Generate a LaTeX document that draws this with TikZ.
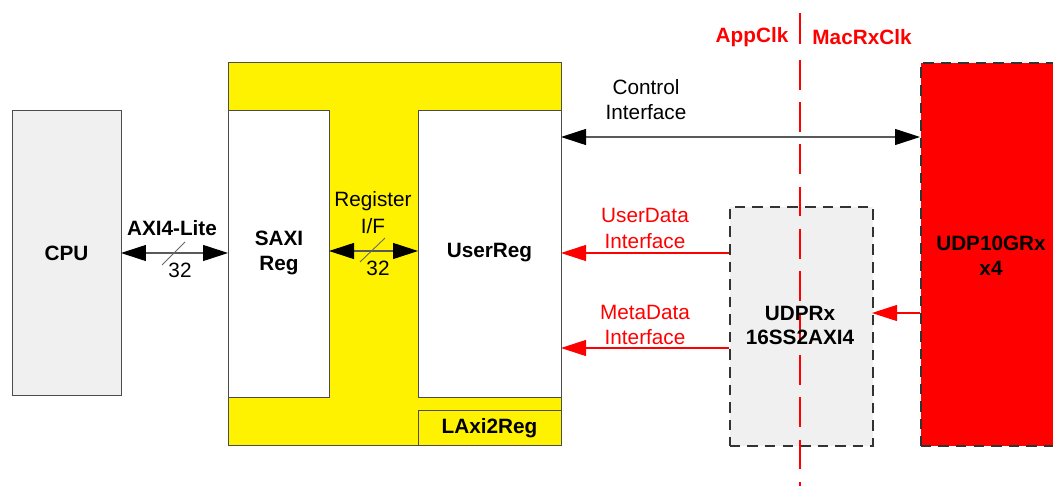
\documentclass[tikz,border=0pt]{standalone}
\usepackage{fontspec}
\setmainfont{Liberation Sans}
\usetikzlibrary{arrows.meta}
\definecolor{boxgray}{RGB}{240,240,240}
\definecolor{lnred}{RGB}{255,0,0}
\begin{document}
\begin{tikzpicture}[x=0.02cm,y=-0.02cm,
  blk/.style={draw=black!70,line width=0.6pt},
  lbl/.style={font=\fontsize{11.8}{14.2}\selectfont,align=center,inner sep=0pt},
  blbl/.style={lbl,font=\fontsize{11.8}{14.2}\selectfont\bfseries},
  big/.style={line width=0.6pt,{Triangle[length=0.5cm,width=0.32cm,color=black]}-{Triangle[length=0.5cm,width=0.32cm,color=black]}},
  onehead/.style={line width=0.6pt,-{Triangle[length=0.5cm,width=0.32cm]}}]
\useasboundingbox (0,0) rectangle (1053,486);
% blocks
\node[blk,fill=boxgray,minimum width=109*0.02cm,minimum height=285*0.02cm,anchor=north west,inner sep=0] (cpu) at (12,110) {};
\node[blbl] at (66.5,253) {CPU};
\node[blk,fill=yellow,minimum width=333*0.02cm,minimum height=383*0.02cm,anchor=north west,inner sep=0] (laxi) at (228,62) {};
\node[blk,fill=white,minimum width=101*0.02cm,minimum height=287*0.02cm,anchor=north west,inner sep=0] (saxi) at (228,110) {};
\node[blbl] at (279,253) {SAXI\\Reg};
\node[blk,fill=white,minimum width=143*0.02cm,minimum height=287*0.02cm,anchor=north west,inner sep=0] (ureg) at (418,110) {};
\node[blbl] at (489.5,253) {UserReg};
\node[blk,fill=yellow,minimum width=143*0.02cm,minimum height=35*0.02cm,anchor=north west,inner sep=0] (lname) at (418,410) {};
\node[blbl] at (489.5,428) {LAxi2Reg};
\node[draw=black!80,dash pattern=on 6pt off 4pt,line width=0.9pt,fill=boxgray,minimum width=143*0.02cm,minimum height=239*0.02cm,anchor=north west,inner sep=0] (udprx) at (729,206) {};
\node[draw=black!80,dash pattern=on 6pt off 4pt,line width=0.9pt,fill=lnred,minimum width=140*0.02cm,minimum height=383*0.02cm,anchor=north west,inner sep=0] (udp10) at (920,62) {};
% clock line
\coordinate (ctop) at (800,13);
\coordinate (cmid) at (800,44);
\coordinate (cdash) at (800,60);
\coordinate (cbot) at (800,486);
\draw[lnred,line width=0.6pt] (ctop) -- (cmid);
\draw[lnred,line width=0.6pt,dash pattern=on 17pt off 7pt] (cdash) -- (cbot);
\node[blbl,text=lnred] at (752,37) {AppClk};
\node[blbl,text=lnred] at (862,37) {MacRxClk};
\node[blbl] at (800,313) {UDPRx};
\node[blbl] at (800,337) {16SS2AXI4};
\node[blbl] at (991,243) {UDP10GRx};
\node[blbl] at (991,268) {x4};
% connectors
\coordinate (a1) at (121,253); \coordinate (a2) at (228,253);
\draw[big,black!65] (a1) -- (a2);
\draw[black!60,line width=0.5pt] (162,265) -- (185,242);
\node[blbl] at (172,228) {AXI4-Lite};
\node[lbl] at (180,270) {32};
\coordinate (r1) at (329,251); \coordinate (r2) at (418,251);
\draw[big,black!65] (r1) -- (r2);
\draw[black!60,line width=0.5pt] (360,262) -- (385,238);
\node[lbl] at (373,201) {Register};
\node[lbl] at (373,226) {I/F};
\node[lbl] at (378,268) {32};
\coordinate (c1) at (561,137); \coordinate (c2) at (920,137);
\draw[big,black!65] (c1) -- (c2);
\node[lbl] at (646,87) {Control};
\node[lbl] at (646,112) {Interface};
\coordinate (u1) at (729,253); \coordinate (u2) at (561,253);
\draw[onehead,lnred] (u1) -- (u2);
\node[lbl,text=lnred] at (645,215) {UserData};
\node[lbl,text=lnred] at (645,241) {Interface};
\coordinate (m1) at (729,348); \coordinate (m2) at (561,348);
\draw[onehead,lnred] (m1) -- (m2);
\node[lbl,text=lnred] at (645,312) {MetaData};
\node[lbl,text=lnred] at (645,337) {Interface};
\coordinate (d1) at (920,313); \coordinate (d2) at (872,313);
\draw[onehead,lnred] (d1) -- (d2);
\end{tikzpicture}
\end{document}
